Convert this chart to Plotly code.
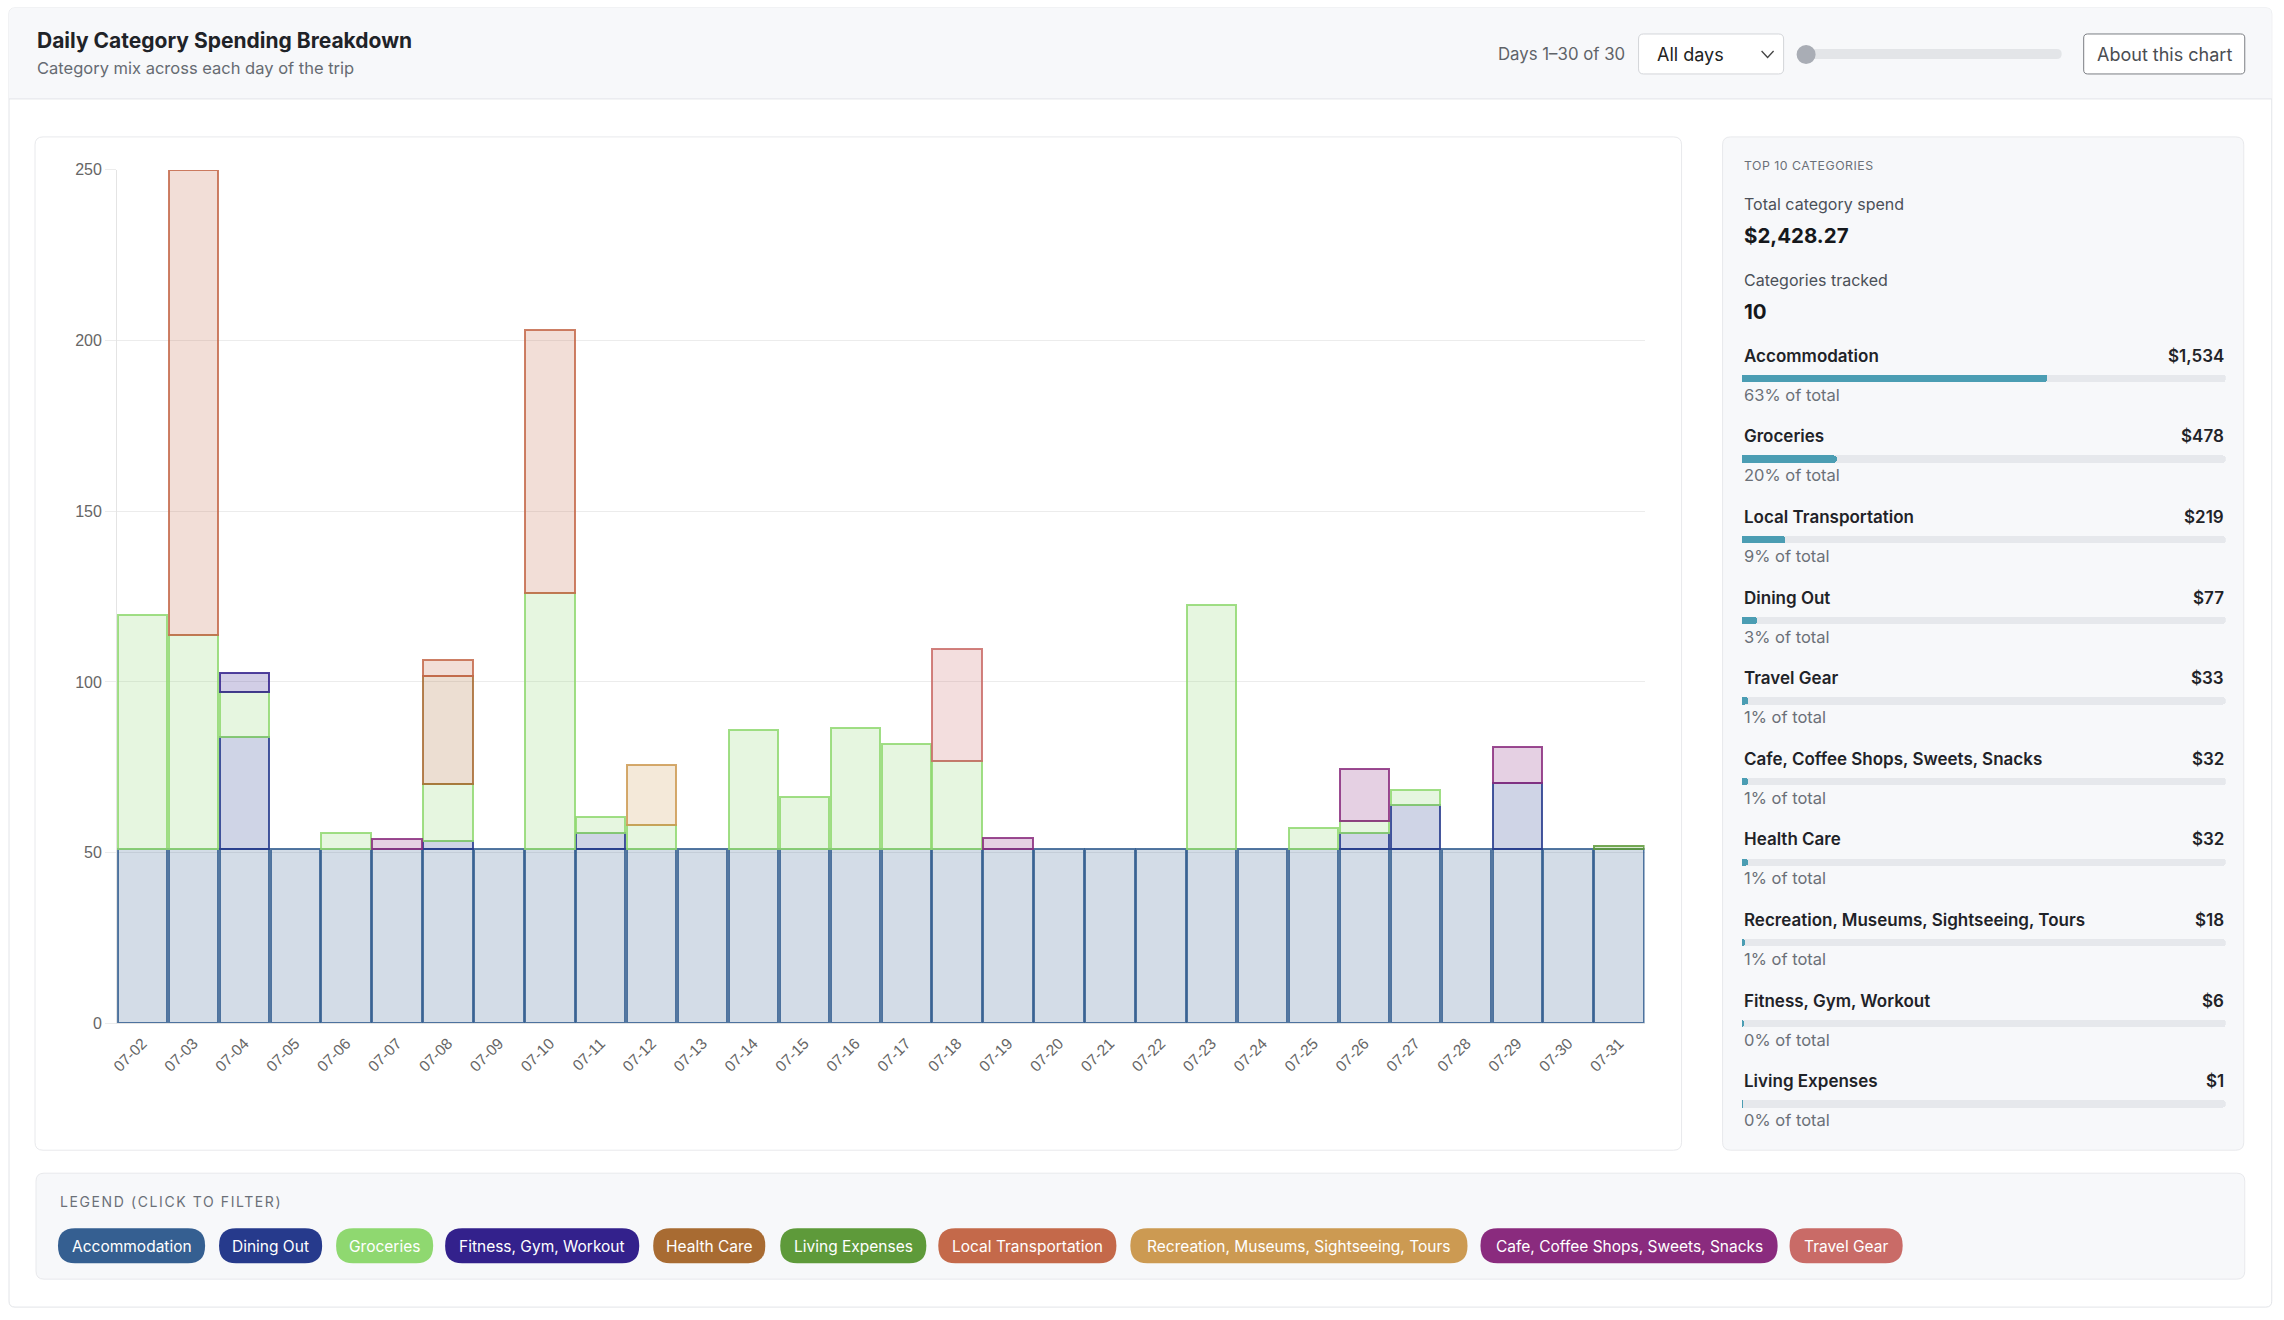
import plotly.graph_objects as go

W, H = 2284, 1320          # figure size

# Measured page->screenshot placement of the figure (body margin + capture scaling):
# screen = OFF + SCL * figure_px  ->  figure_px = (screen - OFF) / SCL
OFF_X, SCL_X = 8.0, 0.9966
OFF_Y, SCL_Y = 8.0, 0.9878

# ---------------- data ----------------
days = ["07-02", "07-03", "07-04", "07-05", "07-06", "07-07", "07-08", "07-09", "07-10", "07-11",
        "07-12", "07-13", "07-14", "07-15", "07-16", "07-17", "07-18", "07-19", "07-20", "07-21",
        "07-22", "07-23", "07-24", "07-25", "07-26", "07-27", "07-28", "07-29", "07-30", "07-31"]

categories = ["Accommodation", "Dining Out", "Groceries", "Fitness, Gym, Workout", "Health Care",
              "Living Expenses", "Local Transportation", "Recreation, Museums, Sightseeing, Tours",
              "Cafe, Coffee Shops, Sweets, Snacks", "Travel Gear"]

accommodation = [51.13, 51.13, 51.13, 51.13, 51.13, 51.13, 51.13, 51.13, 51.13, 51.13,
                 51.13, 51.13, 51.13, 51.13, 51.13, 51.13, 51.13, 51.13, 51.13, 51.13,
                 51.13, 51.13, 51.13, 51.13, 51.13, 51.13, 51.13, 51.13, 51.13, 51.13]
dining_out = [0, 0, 32.7, 0, 0, 0, 2.4, 0, 0, 4.7,
              0, 0, 0, 0, 0, 0, 0, 0, 0, 0,
              0, 0, 0, 0, 4.6, 12.8, 0, 19.3, 0, 0]
groceries = [68.5, 62.5, 13.1, 0, 4.7, 0, 16.6, 0, 74.8, 4.5,
             7.1, 0, 34.7, 15.3, 35.4, 30.7, 25.7, 0, 0, 0,
             0, 71.3, 0, 6.2, 3.5, 4.3, 0, 0, 0, 0]
fitness = [0, 0, 5.8, 0, 0, 0, 0, 0, 0, 0,
           0, 0, 0, 0, 0, 0, 0, 0, 0, 0,
           0, 0, 0, 0, 0, 0, 0, 0, 0, 0]
health_care = [0, 0, 0, 0, 0, 0, 31.6, 0, 0, 0,
               0, 0, 0, 0, 0, 0, 0, 0, 0, 0,
               0, 0, 0, 0, 0, 0, 0, 0, 0, 0]
living_expenses = [0, 0, 0, 0, 0, 0, 0, 0, 0, 0,
                   0, 0, 0, 0, 0, 0, 0, 0, 0, 0,
                   0, 0, 0, 0, 0, 0, 0, 0, 0, 0.9]
local_transport = [0, 136.3, 0, 0, 0, 0, 4.8, 0, 77.1, 0,
                   0, 0, 0, 0, 0, 0, 0, 0, 0, 0,
                   0, 0, 0, 0, 0, 0, 0, 0, 0, 0]
recreation = [0, 0, 0, 0, 0, 0, 0, 0, 0, 0,
              17.4, 0, 0, 0, 0, 0, 0, 0, 0, 0,
              0, 0, 0, 0, 0, 0, 0, 0, 0, 0]
cafe = [0, 0, 0, 0, 0, 2.9, 0, 0, 0, 0,
        0, 0, 0, 0, 0, 0, 0, 3.1, 0, 0,
        0, 0, 0, 0, 15.2, 0, 0, 10.4, 0, 0]
travel_gear = [0, 0, 0, 0, 0, 0, 0, 0, 0, 0,
               0, 0, 0, 0, 0, 0, 32.8, 0, 0, 0,
               0, 0, 0, 0, 0, 0, 0, 0, 0, 0]

series = [accommodation, dining_out, groceries, fitness, health_care,
          living_expenses, local_transport, recreation, cafe, travel_gear]

cat_colors = ["#355f91", "#263a8c", "#8fd870", "#33218c", "#a86b32",
              "#5e9a3a", "#c4694a", "#cc9a52", "#8a2b7e", "#c96b67"]

# right panel (top 10 categories)
total_spend = 2428.27
panel_names = ["Accommodation", "Groceries", "Local Transportation", "Dining Out", "Travel Gear",
               "Cafe, Coffee Shops, Sweets, Snacks", "Health Care",
               "Recreation, Museums, Sightseeing, Tours", "Fitness, Gym, Workout", "Living Expenses"]
panel_values = [1534, 478, 219, 77, 33, 32, 32, 18, 6, 1]

# legend pill layout (pixel extents on the page)
pill_x = [(59, 206), (220, 323), (337, 434), (446, 640), (654, 766),
          (781, 927), (939, 1117), (1131, 1468), (1481, 1778), (1790, 1903)]

# ---------------- helpers ----------------
def X(p):
    return ((p - OFF_X) / SCL_X) / W


def Y(p):
    return 1 - ((p - OFF_Y) / SCL_Y) / H


def rgba(hexc, a):
    h = hexc.lstrip("#")
    r, g, b = int(h[0:2], 16), int(h[2:4], 16), int(h[4:6], 16)
    return f"rgba({r},{g},{b},{a})"


def rr_path(x0, y0, x1, y1, r, top_only=False):
    rb = 0 if top_only else r
    return (f"M {X(x0 + r)},{Y(y0)} L {X(x1 - r)},{Y(y0)} Q {X(x1)},{Y(y0)} {X(x1)},{Y(y0 + r)} "
            f"L {X(x1)},{Y(y1 - rb)} Q {X(x1)},{Y(y1)} {X(x1 - rb)},{Y(y1)} "
            f"L {X(x0 + rb)},{Y(y1)} Q {X(x0)},{Y(y1)} {X(x0)},{Y(y1 - rb)} "
            f"L {X(x0)},{Y(y0 + r)} Q {X(x0)},{Y(y0)} {X(x0 + r)},{Y(y0)} Z")


shapes = []
annotations = []


def box(x0, y0, x1, y1, r, fill, line=None, lw=1, top_only=False):
    shapes.append(dict(type="path", xref="paper", yref="paper", layer="below",
                       path=rr_path(x0, y0, x1, y1, r, top_only), fillcolor=fill,
                       line=dict(color=line if line else "rgba(0,0,0,0)", width=lw if line else 0)))


UI = "Inter, 'Noto Sans', sans-serif"
TICKF = "'Liberation Sans', Arial, sans-serif"


def text(t, x, y, size, color, weight=400, anchor="left", family=UI):
    annotations.append(dict(text=t, x=X(x), y=Y(y), xref="paper", yref="paper",
                            xanchor=anchor, yanchor="middle", showarrow=False,
                            font=dict(family=family, size=size, color=color, weight=weight)))


# ---------------- figure ----------------
fig = go.Figure()

for name, vals, col in zip(categories, series, cat_colors):
    fig.add_trace(go.Bar(
        x=days, y=[v if v else None for v in vals], name=name,
        marker=dict(color=rgba(col, 0.22), line=dict(color=rgba(col, 0.85), width=2)),
        xaxis="x", yaxis="y", showlegend=False,
        hovertemplate=name + ": $%{y:.2f}<extra></extra>"))

# panel progress bars: track (y2) and fill (y3 overlay)
rows = list(range(len(panel_names)))
fig.add_trace(go.Bar(
    x=[total_spend for _ in panel_values], y=rows, orientation="h", width=0.09,
    marker=dict(color="#e6e8ec", cornerradius=4, line=dict(width=0)),
    xaxis="x2", yaxis="y2", showlegend=False, hoverinfo="skip"))
fig.add_trace(go.Bar(
    x=panel_values, y=rows, orientation="h", width=0.09,
    marker=dict(color="#4b9db3", cornerradius=4, line=dict(width=0)),
    xaxis="x2", yaxis="y3", showlegend=False, hoverinfo="skip"))

# ---------------- decoration ----------------
# outer card
box(10, 8, 2272, 1308, 6, "#ffffff", "#e2e4e8", 1)
box(10, 8, 2272, 99, 6, "#f7f8fa", None, 0, top_only=True)
shapes.append(dict(type="line", xref="paper", yref="paper", layer="below",
                   x0=X(10), x1=X(2272), y0=Y(99), y1=Y(99), line=dict(color="#e2e4e8", width=1)))
# chart card
box(36, 137, 1682, 1151, 8, "#ffffff", "#e8e9ec", 1)
# right panel
box(1723, 137, 2244, 1151, 8, "#f7f8fa", "#e8e9ec", 1)
# legend card
box(37, 1174, 2245, 1280, 8, "#f7f8fa", "#e8e9ec", 1)

# header controls
text("Daily Category Spending Breakdown", 36, 41, 21, "#1f2328", 700)
text("Category mix across each day of the trip", 36, 68, 16.5, "#666b72")
text("Days 1–30 of 30", 1627, 54, 16.8, "#5f6368", anchor="right")
box(1639, 34, 1784, 74, 5, "#ffffff", "#d3d5d9", 1)
text("All days", 1655, 55, 18, "#222222")
shapes.append(dict(type="path", xref="paper", yref="paper",
                   path=f"M {X(1762)},{Y(51)} L {X(1768)},{Y(57.5)} L {X(1774)},{Y(51)}",
                   line=dict(color="#444444", width=1.3)))
box(1801, 49, 2062, 59, 5, "#e3e5e8")
shapes.append(dict(type="circle", xref="paper", yref="paper",
                   x0=X(1797), x1=X(1816), y0=Y(45), y1=Y(64),
                   fillcolor="#a9adb5", line=dict(width=0)))
box(2084, 34, 2245, 74, 4, "#ffffff", "#7a7d82", 1)
text("About this chart", 2164.5, 55, 18, "#4a4d52", anchor="center")

# right panel text
text('<span style="letter-spacing:0.5px">TOP 10 CATEGORIES</span>', 1742, 166, 12.3, "#6b7078")
text("Total category spend", 1742, 204, 16, "#4b5058")
text("$2,428.27", 1742, 236, 20.5, "#16181c", 700)
text("Categories tracked", 1742, 280, 16, "#4b5058")
text("10", 1742, 312, 20.5, "#16181c", 700)
for i, (nm, v) in enumerate(zip(panel_names, panel_values)):
    yb = 356 + 80.67 * i
    text(nm, 1742, yb, 17, "#1f2328", 600)
    text(f"${v:,.0f}", 2226, yb, 17, "#1f2328", 600, anchor="right")
    text(f"{round(100 * v / total_spend):.0f}% of total", 1742, yb + 39, 16.5, "#6b7078")

# legend
text('<span style="letter-spacing:1.6px">LEGEND (CLICK TO FILTER)</span>', 59, 1202, 14, "#6b7078")
for (x0, x1), nm, col in zip(pill_x, categories, cat_colors):
    box(x0, 1229, x1, 1264, 17, col)
    text(nm, (x0 + x1) / 2, 1247, 15.5, "#ffffff", anchor="center")

# panel bar axis domains: row i center at 378.7 + 80.67*i px
top_px = 378.7 - 0.5 * 80.67
bot_px = 378.7 + 9.5 * 80.67

fig.update_layout(
    width=W, height=H, autosize=False,
    margin=dict(l=0, r=0, t=0, b=0),
    paper_bgcolor="#ffffff", plot_bgcolor="rgba(0,0,0,0)",
    barmode="stack", bargap=0.03,
    shapes=shapes, annotations=annotations,
    xaxis=dict(domain=[X(118), X(1645)], type="category", showgrid=False,
               showline=True, linecolor="#e4e4e4", tickangle=-45, ticks="",
               ticklabelstandoff=4,
               tickfont=dict(family=TICKF, size=15.5, color="#666666"),
               fixedrange=True),
    yaxis=dict(domain=[Y(1024), Y(170)], range=[0, 250], dtick=50, showgrid=True,
               gridcolor="#ececec", gridwidth=1, zeroline=False, showline=True,
               linecolor="#e4e4e4", ticks="outside", ticklen=11, tickcolor="#ececec",
               tickfont=dict(family=TICKF, size=16, color="#666666"),
               fixedrange=True),
    xaxis2=dict(domain=[X(1742), X(2226)], range=[0, total_spend], visible=False, fixedrange=True),
    yaxis2=dict(domain=[Y(bot_px), Y(top_px)], range=[9.5, -0.5], visible=False, anchor="x2",
                fixedrange=True),
    yaxis3=dict(domain=[Y(bot_px), Y(top_px)], range=[9.5, -0.5], visible=False, anchor="x2",
                overlaying="y2", fixedrange=True),
    font=dict(family=UI),
)

fig.write_html("out.html")
